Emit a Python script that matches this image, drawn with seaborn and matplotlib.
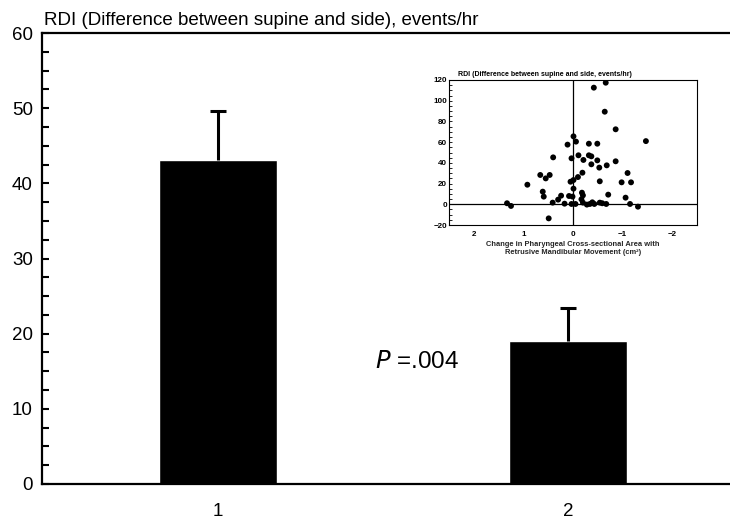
import numpy as np
import pandas as pd
import seaborn as sns
import matplotlib.pyplot as plt
from matplotlib.ticker import MultipleLocator

# main bar values
groups = ["1", "2"]
rdi_mean = [43.1, 19.0]
rdi_err = [6.5, 4.4]

# inset scatter (change in area, RDI difference)
area_change = [-0.66, -0.42, -0.64, -0.86, -1.47, -0.01, -0.06, 0.11, -0.32, -0.49,
               0.40, 0.03, -0.11, -0.21, -0.32, -0.37, -0.37, -0.49, -0.53, -0.68,
               -0.86, 0.66, 0.55, 0.47, 0.92, 0.05, -0.01, -0.10, -0.19, -0.54,
               -0.98, -1.10, -1.17, 0.61, 0.59, 0.24, 0.30, 0.08, -0.01, 0.01,
               -0.18, -0.20, -0.17, -0.71, -1.06, 1.33, 1.25, 0.41, 0.17, 0.03,
               -0.05, -0.28, -0.34, -0.43, -0.54, -0.59, -0.67, -1.15, -1.31, 0.49,
               -0.39, -0.20]
rdi_diff = [117.4, 112.6, 89.4, 72.4, 61.0, 65.6, 60.5, 57.6, 58.5, 58.5,
            45.3, 44.4, 47.3, 42.8, 47.3, 46.3, 38.6, 42.4, 35.4, 37.6,
            41.5, 28.3, 25.0, 28.3, 18.9, 21.8, 23.4, 26.3, 30.5, 22.2,
            21.2, 30.2, 21.2, 12.2, 7.4, 8.3, 4.5, 8.0, 15.1, 7.4,
            11.2, 8.6, 4.8, 9.3, 6.4, 1.0, -1.6, 1.6, 0.6, 0.3,
            0.3, -0.3, 0.3, 0.3, 1.6, 1.0, 0.3, 0.3, -2.3, -13.6,
            1.9, 1.6]

sns.set_theme(style="white")
plt.rcParams['font.family'] = ['Liberation Sans', 'DejaVu Sans']
plt.rcParams['text.color'] = 'black'
plt.rcParams['xtick.color'] = 'black'
plt.rcParams['ytick.color'] = 'black'

fig = plt.figure(figsize=(7.3, 5.23), dpi=100)
ax = fig.add_axes([42 / 730, 39 / 523, 1 - 42 / 730, 451 / 523])

df = pd.DataFrame({"group": groups, "rdi": rdi_mean})
sns.barplot(data=df, x="group", y="rdi", color="black", width=0.337,
            saturation=1, errorbar=None, ax=ax)
eb = ax.errorbar([0, 1], rdi_mean, yerr=[[0, 0], rdi_err], fmt="none",
                 ecolor="black", elinewidth=2.2, capsize=5.8, capthick=2.2)
eb[1][0].set_visible(False)  # no cap at the bar top

ax.set_ylim(0, 60)
ax.set_xlim(-0.503, 1.463)
ax.yaxis.set_major_locator(MultipleLocator(10))
ax.yaxis.set_minor_locator(MultipleLocator(2.5))
ax.tick_params(axis="y", which="both", direction="in", length=5, width=1.5,
               labelsize=13.5, pad=6.5, left=True)
ax.tick_params(axis="x", length=0, labelsize=13.5, pad=14)
ax.set_xlabel("")
ax.set_ylabel("")
for s in ["left", "bottom", "top"]:
    ax.spines[s].set_linewidth(1.6)
    ax.spines[s].set_color("black")
ax.spines["right"].set_visible(False)

ax.text(0.569, 16.2, r"$\it{P}$ =.004", fontsize=17.5, ha="center", va="center")
fig.text(44 / 730, 1 - 25 / 523, "RDI (Difference between supine and side), events/hr",
         fontsize=13.5, ha="left", va="baseline")

# inset scatter
axi = fig.add_axes([449 / 730, 1 - 225 / 523, 248 / 730, 145 / 523])
sns.scatterplot(x=area_change, y=rdi_diff, color="black", s=18,
                edgecolor="none", ax=axi)
axi.axhline(0, color="black", lw=0.9)
axi.axvline(0, color="black", lw=0.9)
axi.set_xlim(2.5, -2.5)
axi.set_ylim(-20, 120)
axi.xaxis.set_major_locator(MultipleLocator(1))
axi.yaxis.set_major_locator(MultipleLocator(20))
axi.yaxis.set_minor_locator(MultipleLocator(5))
axi.tick_params(axis="y", which="both", direction="in", length=2, width=0.6,
                labelsize=5.8, pad=1.5, left=True)
axi.tick_params(axis="x", length=0, labelsize=5.8, pad=4.5)
for lab in axi.get_xticklabels() + axi.get_yticklabels():
    lab.set_fontweight("bold")
for s in axi.spines.values():
    s.set_linewidth(0.8)
    s.set_color("black")
axi.set_xlabel("Change in Pharyngeal Cross-sectional Area with\n"
               "Retrusive Mandibular Movement (cm²)",
               fontsize=5.4, fontweight="bold", labelpad=2, linespacing=1.15)
fig.text(458 / 730, 1 - 76 / 523, "RDI (Difference between supine and side, events/hr)",
         fontsize=5, fontweight="bold", ha="left", va="baseline")

fig.savefig("out.png", dpi=100)
